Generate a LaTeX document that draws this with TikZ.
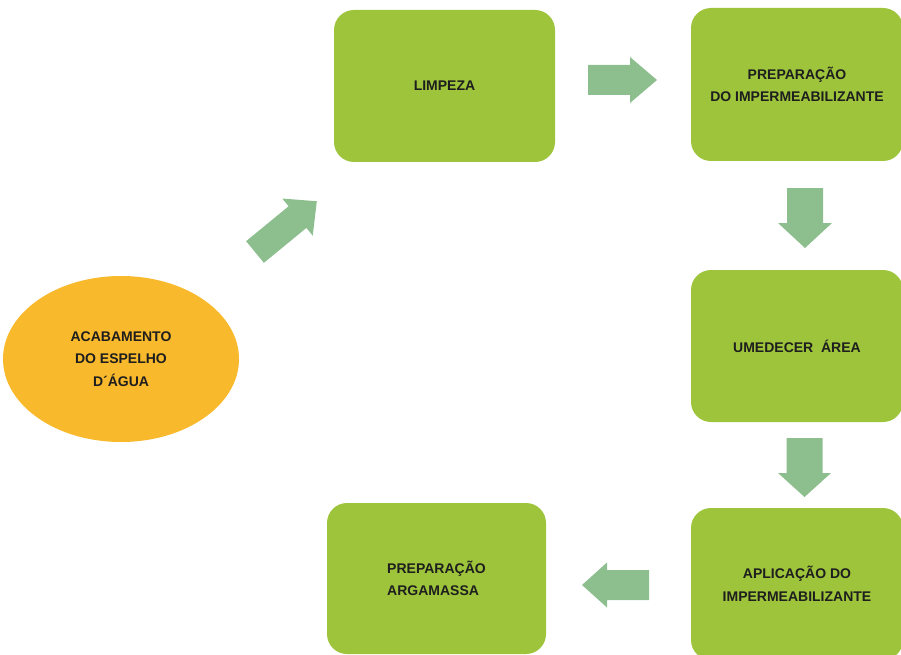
\documentclass[tikz,border=0pt]{standalone}
\usepackage{fontspec}
\setmainfont{Liberation Sans}
\usetikzlibrary{shapes.geometric}
\definecolor{boxgreen}{HTML}{9DC43B}
\definecolor{arrowfill}{HTML}{8DBE8E}
\definecolor{ovalfill}{HTML}{F9B92C}
\definecolor{txt}{HTML}{1E1E1E}
\newcommand\blockarrow[6]{% tail, angle, length, shaft half width, head half width, head length
  \fill[arrowfill, shift={#1}, rotate=#2] (0,-#4) -- ({#3-#6},-#4) -- ({#3-#6},-#5) -- (#3,0) -- ({#3-#6},#5) -- ({#3-#6},#4) -- (0,#4) -- cycle;}
\begin{document}
\begin{tikzpicture}[x=1pt,y=1pt,
  stepbox/.style={rectangle, rounded corners=20pt, fill=boxgreen, inner sep=0pt, text=txt,
    font=\fontsize{14}{22.5}\selectfont\bfseries, align=center},
  oval/.style={ellipse, fill=ovalfill, inner sep=0pt, text=txt,
    font=\fontsize{14}{22.5}\selectfont\bfseries, align=center}]
\useasboundingbox (0,0) rectangle (901,-655);
\clip (0,0) rectangle (901,-655);

\node[oval, minimum width=236pt, minimum height=166pt] (acab) at (121,-359) {ACABAMENTO\\DO ESPELHO\\D´ÁGUA};

\node[stepbox, minimum width=221pt, minimum height=152pt] (limp) at (444.5,-86) {LIMPEZA};
\node[stepbox, minimum width=212pt, minimum height=153pt] (prep) at (797,-84.5) {PREPARAÇÃO\\DO IMPERMEABILIZANTE};
\node[stepbox, minimum width=212pt, minimum height=152pt] (umed) at (797,-346) {UMEDECER~ ÁREA};
\node[stepbox, minimum width=212pt, minimum height=152pt] (aplic) at (797,-584) {APLICAÇÃO DO\\IMPERMEABILIZANTE};
\node[stepbox, minimum width=219pt, minimum height=151pt, align=left] (arg) at (436.5,-578.5) {PREPARAÇÃO\\ARGAMASSA};

\blockarrow{(255,-252)}{39.4}{80}{14}{24}{25}
\blockarrow{(588,-80)}{0}{69}{15}{23}{27}
\blockarrow{(805,-188)}{-90}{60}{18}{27}{25}
\blockarrow{(804.5,-438)}{-90}{59}{18}{26.5}{24}
\blockarrow{(649,-585)}{180}{67}{15}{22.5}{25}
\end{tikzpicture}
\end{document}
